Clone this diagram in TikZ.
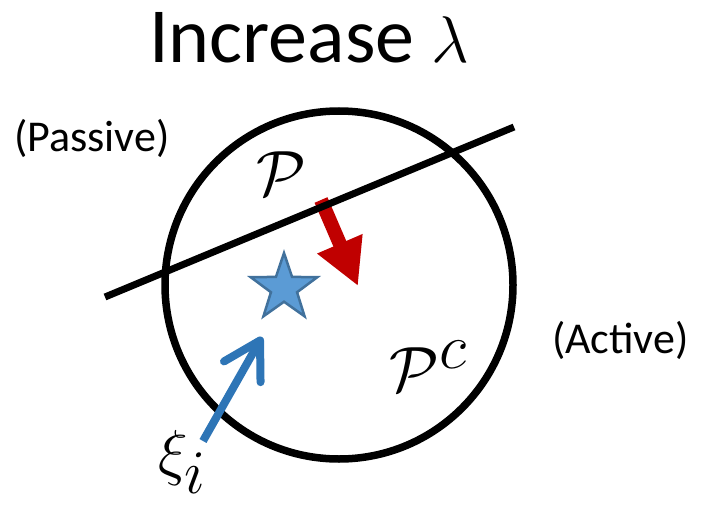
\RequirePackage{fix-cm}
\documentclass[tikz,border=0pt]{standalone}
\usepackage{fontspec}
\setmainfont{Carlito}
\usetikzlibrary{shapes.geometric,arrows.meta}
\definecolor{redar}{HTML}{C00000}
\definecolor{bluear}{HTML}{2E75B6}
\definecolor{starfill}{HTML}{5B9BD5}
\definecolor{starline}{HTML}{41719C}
\tikzset{
  lbl/.style={inner sep=0pt, outer sep=0pt},
  mathlbl/.style={inner sep=0pt, outer sep=0pt, font=\fontsize{64}{70}\selectfont},
  side/.style={inner sep=0pt, outer sep=0pt, font=\fontsize{44}{50}\selectfont, anchor=base west},
}
\begin{document}
\begin{tikzpicture}[x=1pt,y=-1pt]
\useasboundingbox (0,0) rectangle (706,505);
% title
\node[lbl, anchor=base west, font=\fontsize{78}{90}\selectfont] (title) at (149,63) {Increase {\fontsize{66}{70}\selectfont$\lambda$}};
% side labels
\node[side] (passive) at (14,152) {(Passive)};
\node[side] (active) at (552,353) {(Active)};
% circle
\node[draw, line width=7.5pt, circle, minimum size=348pt, inner sep=0pt] (circ) at (339,285) {};
% red arrow (drawn under the line)
\coordinate (rs) at (321,200);
\coordinate (rt) at (358,286);
\draw[redar, line width=14pt, -{Triangle[length=46pt,width=46pt]}] (rs) -- (rt);
% separating line
\coordinate (la) at (105,297);
\coordinate (lb) at (514,127);
\draw[line width=7pt] (la) -- (lb);
% star
\node[star, star points=5, star point ratio=2.55, minimum size=70pt, inner sep=0pt,
      fill=starfill, draw=starline, line width=2.5pt] (xstar) at (284,288) {};
% region labels
\node[mathlbl] (P) at (281,174) {$\mathcal{P}$};
\node[mathlbl] (Pc) at (428,366) {$\mathcal{P}^{\textstyle c}$};
% xi label
\node[mathlbl, font=\fontsize{62}{68}\selectfont] (xi) at (182,462) {$\xi_{\textstyle i}$};
% blue arrow
\coordinate (bs) at (203,441);
\coordinate (bt) at (262,337);
\draw[bluear, line width=8pt, line cap=butt, -{Straight Barb[length=36pt,width=42pt,round]}] (bs) -- (bt);
\end{tikzpicture}
\end{document}
